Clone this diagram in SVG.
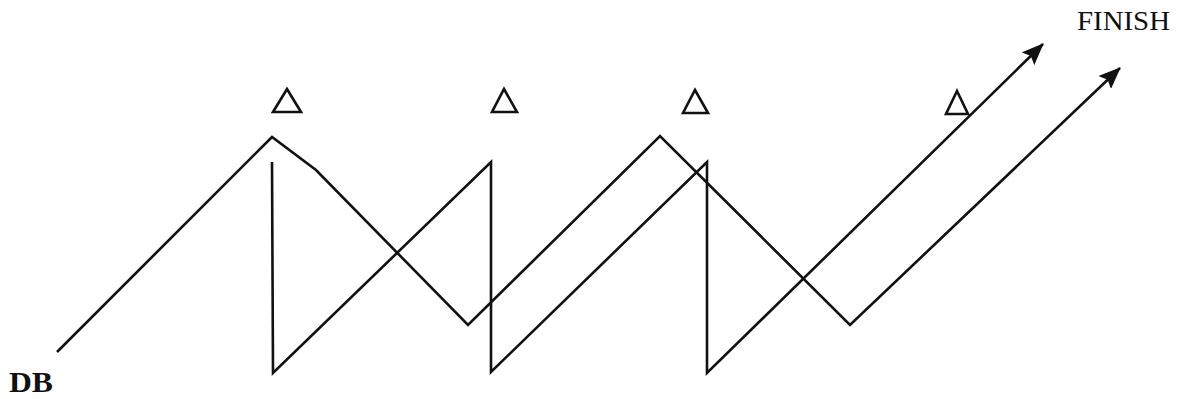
<svg xmlns="http://www.w3.org/2000/svg" width="1178" height="399" viewBox="0 0 1178 399">
<style>
.ln{fill:none;stroke:#111;stroke-width:2.6;stroke-linejoin:miter}
.tri{fill:none;stroke:#111;stroke-width:2.6;stroke-linejoin:miter}
.lbl{font-family:"Liberation Serif","Times New Roman",serif;fill:#111}
</style>
<defs>
<marker id="ah" viewBox="0 0 22 18" refX="21" refY="9" markerWidth="22" markerHeight="18" markerUnits="userSpaceOnUse" orient="auto">
<path d="M0,0 L22,9 L0,18 L4,9 Z" fill="#111"/>
</marker>
</defs>
<rect width="1178" height="399" fill="#fff"/>
<g id="connectors">
<path id="path-a" class="ln" d="M57,352 L272,137 L316,170 L468,325 L660,136 L850,325 L1120,68" marker-end="url(#ah)"/>
<path id="path-b" class="ln" d="M272,162 L273,373 L491,162 L491,372 L707,162 L707,373 L1043,44" marker-end="url(#ah)"/>
</g>
<g id="markers">
<polygon id="tri1" class="tri" points="287,89 301,112 273,112"/>
<polygon id="tri2" class="tri" points="504,89 517,112 492,112"/>
<polygon id="tri3" class="tri" points="695,90 708,113 683,113"/>
<polygon id="tri4" class="tri" points="957,91 968,114 946,114"/>
</g>
<g id="finish"><text class="lbl" x="1077" y="30" font-size="28" textLength="93" lengthAdjust="spacingAndGlyphs">FINISH</text></g>
<g id="db"><text class="lbl" x="9" y="392" font-size="30" font-weight="bold" textLength="44" lengthAdjust="spacingAndGlyphs">DB</text></g>
</svg>
